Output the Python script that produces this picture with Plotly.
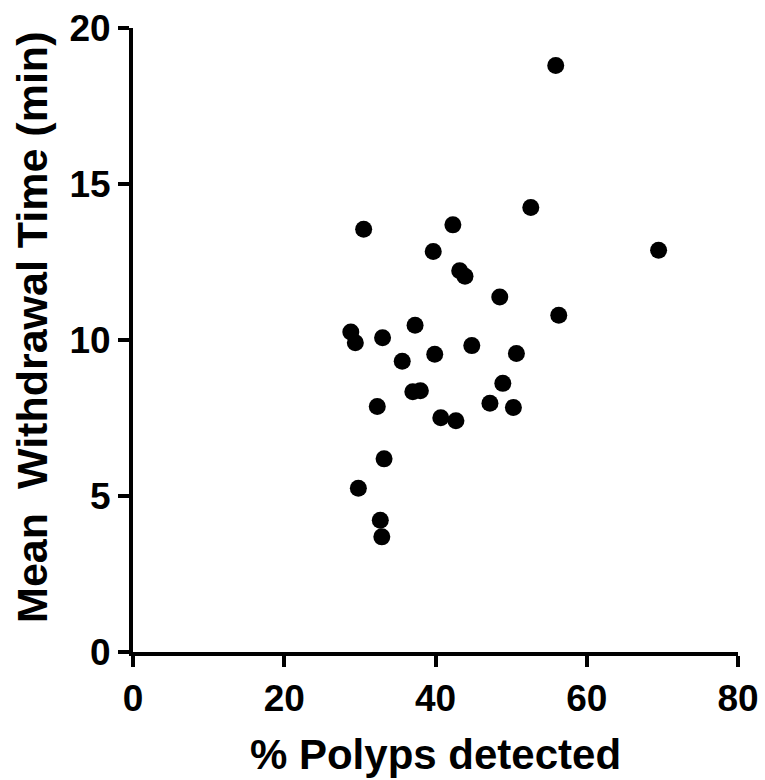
import plotly.graph_objects as go

# % polyps detected vs mean withdrawal time, one point per endoscopist
polyps_pct = [52.6, 30.5, 42.3, 39.7, 43.2, 43.9, 48.5, 28.8, 29.4, 33.0,
              37.3, 35.6, 39.9, 44.8, 50.7, 48.9, 37.0, 38.0, 32.3, 47.2,
              50.3, 40.7, 42.7, 33.2, 29.8, 32.7, 32.9, 55.9, 69.5, 56.3]
withdrawal_min = [14.25, 13.55, 13.69, 12.84, 12.22, 12.04, 11.38, 10.26, 9.91, 10.07,
                  10.47, 9.32, 9.54, 9.82, 9.57, 8.61, 8.34, 8.37, 7.87, 7.97,
                  7.84, 7.51, 7.41, 6.19, 5.25, 4.22, 3.69, 18.80, 12.88, 10.79]

x_ticks = [0, 20, 40, 60, 80]
y_ticks = [0, 5, 10, 15, 20]

font_family = "Arial, Liberation Sans, sans-serif"


def build_figure():
    fig = go.Figure()

    fig.add_trace(go.Scatter(
        x=polyps_pct,
        y=withdrawal_min,
        mode="markers",
        marker=dict(color="black", size=17, line=dict(width=0)),
        cliponaxis=False,
        showlegend=False
    ))

    axis_style = dict(
        showline=True,
        linecolor="black",
        linewidth=4,
        ticks="outside",
        ticklen=11,
        tickwidth=4,
        tickcolor="black",
        showgrid=False,
        zeroline=False,
        automargin=False,
        tickfont=dict(family=font_family, size=37, color="black", weight="bold"),
    )

    fig.update_layout(
        width=765,
        height=780,
        margin=dict(l=133, r=27, t=28, b=128),
        plot_bgcolor="white",
        paper_bgcolor="white",
        xaxis=dict(
            range=[0, 80],
            tickvals=x_ticks,
            title=dict(text="% Polyps detected", standoff=22,
                       font=dict(family=font_family, size=42, color="black", weight="bold")),
            **axis_style
        ),
        yaxis=dict(
            range=[0, 20],
            tickvals=y_ticks,
            **axis_style
        ),
    )

    # y title as an annotation so it can sit a bit above the axis middle, like the original
    fig.add_annotation(
        text="Mean  Withdrawal Time (min)",
        xref="paper", yref="paper",
        x=-0.168, y=0.52,
        xanchor="center", yanchor="middle",
        textangle=-90,
        showarrow=False,
        font=dict(family=font_family, size=43, color="black", weight="bold")
    )
    return fig


def main():
    fig = build_figure()
    # drop the default page margin so the figure sits at the window corner
    fig.write_html("out.html", config={"displayModeBar": False},
                   post_script="document.body.style.margin='0';")


if __name__ == "__main__":
    main()
